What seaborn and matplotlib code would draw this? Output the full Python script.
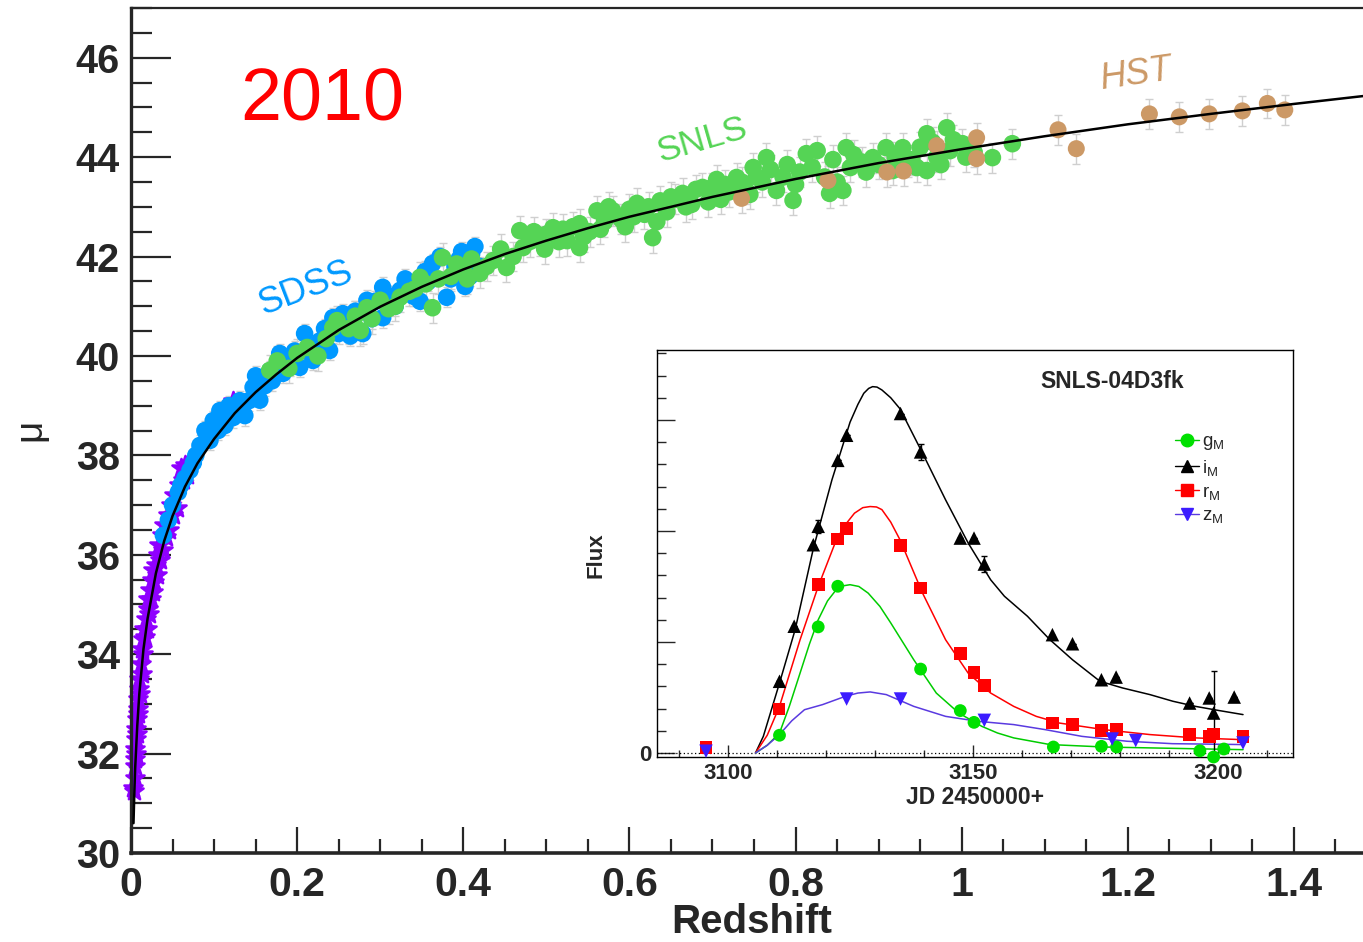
import numpy as np
import pandas as pd
import seaborn as sns
import matplotlib
matplotlib.use("Agg")
import matplotlib.pyplot as plt
from matplotlib.ticker import MultipleLocator, FuncFormatter
from matplotlib.lines import Line2D

# ---------------- data: Hubble diagram ----------------
lowz_z = [0.003, 0.004, 0.0045, 0.005, 0.0045, 0.005, 0.0055, 0.006, 0.0065, 0.007,
          0.0075, 0.008, 0.0085, 0.009, 0.0095, 0.010, 0.011, 0.012, 0.013, 0.0135,
          0.014, 0.015, 0.016, 0.017, 0.018, 0.019, 0.020, 0.021, 0.022, 0.023,
          0.024, 0.025, 0.026, 0.027, 0.028, 0.030, 0.031, 0.032, 0.034, 0.035,
          0.037, 0.039, 0.040, 0.042, 0.044, 0.046, 0.048, 0.050, 0.052, 0.055,
          0.058, 0.060, 0.062, 0.065, 0.068, 0.123]
lowz_mu = [31.3, 31.25, 31.5, 31.75, 31.9, 32.1, 32.3, 32.0, 32.5, 32.7,
           32.4, 32.9, 33.1, 32.8, 33.3, 33.5, 33.2, 33.8, 33.6, 34.1,
           34.3, 34.0, 34.5, 34.35, 34.7, 34.5, 34.9, 35.1, 34.8, 35.3,
           35.1, 35.5, 35.25, 35.7, 35.45, 35.8, 35.6, 36.0, 36.2, 35.9,
           36.4, 36.1, 36.6, 36.35, 36.8, 36.5, 37.0, 36.8, 37.2, 36.95,
           37.4, 37.75, 37.5, 37.8, 37.6, 39.1]

sdss_z = [0.039, 0.045, 0.057, 0.065, 0.071, 0.078, 0.083, 0.089, 0.091, 0.099,
          0.101, 0.107, 0.113, 0.123, 0.131, 0.137, 0.147, 0.155, 0.161, 0.167,
          0.179, 0.183, 0.191, 0.197, 0.203, 0.209, 0.219, 0.227, 0.239, 0.243,
          0.255, 0.264, 0.270, 0.279, 0.284, 0.294, 0.303, 0.303, 0.312, 0.324,
          0.336, 0.348, 0.354, 0.363, 0.372, 0.380, 0.390, 0.398, 0.408, 0.414,
          0.420, 0.05, 0.06, 0.075, 0.095, 0.105, 0.118, 0.127, 0.142, 0.15,
          0.17, 0.187, 0.21, 0.233, 0.25, 0.26, 0.29, 0.318, 0.33, 0.34,
          0.358, 0.385, 0.395, 0.402, 0.41]
sdss_mu = [36.39, 36.7, 37.26, 37.54, 37.7, 38.0, 38.2, 38.5, 38.44, 38.7,
           38.62, 38.9, 38.6, 38.76, 39.1, 38.8, 39.37, 39.11, 39.4, 39.7,
           40.05, 39.65, 39.8, 40.1, 39.77, 40.45, 39.91, 40.3, 40.11, 40.77,
           40.85, 40.4, 40.9, 40.45, 41.12, 41.1, 41.38, 40.77, 41.2, 41.32,
           41.4, 41.1, 41.7, 41.86, 42.0, 41.18, 41.8, 42.1, 41.6, 42.2,
           41.8, 37.0, 37.4, 37.85, 38.3, 38.5, 39.0, 38.9, 39.1, 39.6,
           39.5, 39.95, 40.1, 40.55, 40.45, 40.75, 40.75, 41.0, 41.55, 41.2,
           41.5, 41.55, 41.95, 41.4, 42.05]

snls_z = [0.167, 0.176, 0.19, 0.212, 0.225, 0.243, 0.248, 0.262, 0.276, 0.284,
          0.300, 0.31, 0.324, 0.335, 0.348, 0.363, 0.375, 0.385, 0.400, 0.41,
          0.420, 0.436, 0.445, 0.452, 0.468, 0.472, 0.48, 0.492, 0.50, 0.508,
          0.515, 0.525, 0.532, 0.540, 0.540, 0.552, 0.561, 0.57, 0.58, 0.59,
          0.600, 0.609, 0.618, 0.628, 0.637, 0.645, 0.655, 0.664, 0.675, 0.688,
          0.700, 0.71, 0.72, 0.729, 0.74, 0.749, 0.753, 0.765, 0.777, 0.785,
          0.797, 0.805, 0.813, 0.826, 0.841, 0.85, 0.857, 0.861, 0.866, 0.88,
          0.893, 0.909, 0.917, 0.929, 0.94, 0.946, 0.958, 0.958, 0.97, 0.982,
          0.986, 1.001, 1.015, 1.037, 1.061,
          0.2, 0.235, 0.27, 0.29, 0.318, 0.342, 0.355, 0.37, 0.392, 0.405,
          0.428, 0.46, 0.485, 0.498, 0.52, 0.545, 0.565, 0.575, 0.595, 0.605,
          0.623, 0.633, 0.65, 0.668, 0.68, 0.695, 0.705, 0.715, 0.735, 0.745,
          0.76, 0.77, 0.79, 0.80, 0.82, 0.835, 0.845, 0.87, 0.885, 0.9,
          0.92, 0.935, 0.95, 0.965, 0.975, 0.99, 1.005]
snls_mu = [39.71, 39.9, 39.75, 40.17, 40.0, 40.57, 40.71, 40.55, 40.51, 40.97,
           41.12, 40.95, 41.18, 41.3, 41.58, 40.97, 41.98, 41.6, 41.72, 41.95,
           41.66, 41.92, 42.15, 41.78, 42.52, 42.18, 42.3, 42.32, 42.45, 42.58,
           42.3, 42.32, 42.6, 42.66, 42.18, 42.5, 42.92, 42.7, 42.92, 42.75,
           42.95, 43.07, 42.85, 42.38, 43.12, 42.9, 43.15, 43.27, 43.05, 43.39,
           43.39, 43.15, 43.3, 43.59, 43.35, 43.79, 43.6, 43.99, 43.33, 43.6,
           43.13, 43.7, 44.07, 44.13, 43.27, 43.5, 43.33, 44.19, 43.79, 43.9,
           43.99, 44.19, 43.73, 44.19, 43.95, 43.79, 44.47, 43.73, 44.0, 44.59,
           44.13, 44.27, 44.1, 43.99, 44.27,
           40.05, 40.35, 40.8, 40.75, 41.0, 41.35, 41.45, 41.55, 41.85, 41.55,
           41.8, 42.0, 42.5, 42.15, 42.55, 42.4, 42.55, 43.0, 42.6, 42.8,
           43.0, 42.7, 43.2, 43.0, 43.35, 43.1, 43.55, 43.45, 43.5, 43.25,
           43.5, 43.75, 43.85, 43.45, 43.8, 43.6, 43.95, 44.05, 43.7, 43.85,
           44.0, 43.9, 44.2, 44.3, 43.85, 44.35, 44.0]

hst_z = [0.735, 0.839, 0.91, 0.93, 0.970, 1.018, 1.018, 1.116, 1.138, 1.226,
         1.262, 1.298, 1.338, 1.368, 1.389]
hst_mu = [43.17, 43.53, 43.7, 43.72, 44.23, 44.39, 43.97, 44.55, 44.17, 44.87,
          44.81, 44.87, 44.93, 45.08, 44.95]

fit_z = [0.003, 0.004, 0.005, 0.0075, 0.01, 0.015, 0.02, 0.03, 0.04, 0.05,
         0.065, 0.08, 0.1, 0.125, 0.15, 0.175, 0.2, 0.25, 0.3, 0.35,
         0.4, 0.45, 0.5, 0.55, 0.6, 0.7, 0.8, 0.9, 1.0, 1.1,
         1.2, 1.3, 1.4, 1.5]
fit_mu = [30.6, 31.2, 31.7, 32.55, 33.2, 34.1, 34.72, 35.63, 36.28, 36.78,
          37.37, 37.84, 38.33, 38.85, 39.27, 39.63, 39.96, 40.52, 40.99, 41.39,
          41.74, 42.05, 42.32, 42.57, 42.8, 43.2, 43.56, 43.88, 44.16, 44.42,
          44.66, 44.87, 45.07, 45.26]

err_sdss = 0.2
err_snls = 0.3
err_hst = 0.3

x_ticks = [0, 0.2, 0.4, 0.6, 0.8, 1.0, 1.2, 1.4]
y_ticks = [30, 32, 34, 36, 38, 40, 42, 44, 46]

# ---------------- data: light curve inset ----------------
g_jd = [3110.5, 3118.4, 3122.4, 3139.3, 3147.4, 3150.2, 3166.4, 3176.2, 3179.3, 3196.3, 3199.1, 3201.2]
g_flux = [0.8, 5.68, 7.51, 3.78, 1.91, 1.38, 0.27, 0.30, 0.27, 0.1, -0.18, 0.18]

i_jd = [3110.5, 3113.5, 3117.4, 3118.4, 3122.4, 3124.2, 3135.2, 3139.3, 3147.4, 3150.2,
        3152.3, 3166.2, 3170.3, 3176.2, 3179.2, 3194.2, 3198.2, 3199.1, 3203.3]
i_flux = [3.23, 5.71, 9.38, 10.21, 13.18, 14.31, 15.29, 13.56, 9.68, 9.68,
          8.51, 5.33, 4.92, 3.30, 3.42, 2.25, 2.48, 1.80, 2.52]
i_err = [0, 0, 0, 0.3, 0, 0, 0, 0.35, 0, 0,
         0.35, 0, 0, 0, 0, 0, 0, 1.9, 0]

r_jd = [3095.5, 3110.4, 3118.4, 3122.4, 3124.2, 3135.2, 3139.3, 3147.4, 3150.2, 3152.3,
        3166.2, 3170.3, 3176.2, 3179.2, 3194.2, 3198.2, 3199.1, 3205.1]
r_flux = [0.23, 1.98, 7.58, 9.64, 10.1, 9.35, 7.43, 4.47, 3.63, 3.05,
          1.35, 1.28, 1.02, 1.05, 0.83, 0.75, 0.86, 0.75]

z_jd = [3095.5, 3124.2, 3135.2, 3152.3, 3178.4, 3183.2, 3205.1]
z_flux = [0.08, 2.43, 2.43, 1.47, 0.63, 0.56, 0.45]

i_fit_jd = [3105.6, 3107.2, 3110.5, 3113.7, 3117.4, 3121.2, 3124.9, 3126.5, 3127.7, 3128.7,
            3129.5, 3130.4, 3131.4, 3133.2, 3135.1, 3139.7, 3144.4, 3149.0, 3153.6, 3156.4,
            3161.1, 3165.7, 3170.3, 3175.9, 3180.5, 3186.1, 3190.8, 3195.4, 3200.0, 3205.1]
i_fit_flux = [0, 0.75, 3.15, 5.56, 9.2, 12.3, 14.9, 15.7, 16.2, 16.42,
              16.5, 16.48, 16.35, 16.0, 15.5, 13.5, 11.4, 9.46, 7.8, 7.06,
              6.16, 5.1, 4.2, 3.23, 2.93, 2.63, 2.33, 2.1, 1.92, 1.73]
r_fit_jd = [3105.6, 3108.0, 3110.5, 3114.7, 3118.4, 3122.1, 3124.0, 3125.8, 3127.5, 3129.0,
            3130.3, 3131.4, 3133.2, 3135.1, 3139.7, 3144.4, 3149.0, 3153.6, 3158.3, 3162.9,
            3167.6, 3176.8, 3186.1, 3195.4, 3205.1]
r_fit_flux = [0, 0.8, 2.1, 5.1, 7.5, 9.6, 10.3, 10.8, 11.05, 11.1,
              11.08, 10.96, 10.4, 9.6, 7.2, 5.1, 3.6, 2.7, 2.1, 1.65,
              1.35, 1.05, 0.83, 0.68, 0.6]
g_fit_jd = [3105.6, 3108.0, 3110.5, 3112.5, 3114.7, 3116.6, 3118.4, 3120.3, 3122.1, 3123.5,
            3124.9, 3126.7, 3128.6, 3131.0, 3133.2, 3137.9, 3142.5, 3147.1, 3151.8, 3155.0,
            3158.3, 3165.7, 3176.8, 3186.1, 3205.1]
g_fit_flux = [0, 0.35, 0.9, 2.1, 3.6, 4.9, 6.0, 6.85, 7.36, 7.53,
              7.58, 7.5, 7.2, 6.6, 5.86, 4.2, 2.7, 1.8, 1.2, 0.9,
              0.68, 0.38, 0.27, 0.23, 0.15]
z_fit_jd = [3105.6, 3108.0, 3110.5, 3113.0, 3115.6, 3119.3, 3123.9, 3126.5, 3129.0, 3132.3,
            3137.9, 3144.4, 3150.9, 3158.3, 3164.8, 3172.2, 3181.4, 3190.7, 3205.1]
z_fit_flux = [0, 0.35, 0.83, 1.45, 1.95, 2.18, 2.55, 2.7, 2.75, 2.63,
              2.1, 1.65, 1.43, 1.28, 1.05, 0.75, 0.53, 0.42, 0.38]

band_labels = [r"g$_{\mathrm{M}}$", r"i$_{\mathrm{M}}$", r"r$_{\mathrm{M}}$", r"z$_{\mathrm{M}}$"]

# ---------------- style ----------------
sns.set_theme(style="ticks")
plt.rcParams["font.family"] = ["Liberation Sans", "DejaVu Sans"]
plt.rcParams["mathtext.fontset"] = "custom"
plt.rcParams["mathtext.rm"] = "Liberation Sans"
plt.rcParams["mathtext.it"] = "Liberation Sans:italic"

C_LOWZ = "#8f00ff"
C_SDSS = "#0099ff"
C_SNLS = "#55d455"
C_HST = "#cc9966"
C_ERR = "#cfcfcf"

W, H = 1363, 942
fig = plt.figure(figsize=(W / 100, H / 100), dpi=100)

def fx(px):
    return px / W

def fy(py):
    return 1 - py / H

# main axes: left 131, right 1377 (beyond image), top 8, bottom 853
ax = fig.add_axes([fx(131), fy(853), (1377 - 131) / W, (853 - 8) / H])
ax.set_xlim(0, 1.5)
ax.set_ylim(30, 47)

for zs, ms, e in [(sdss_z, sdss_mu, err_sdss), (snls_z, snls_mu, err_snls), (hst_z, hst_mu, err_hst)]:
    ax.errorbar(zs, ms, yerr=e, fmt="none", ecolor=C_ERR, elinewidth=1.0,
                capsize=3, capthick=1.0, zorder=1)

df_low = pd.DataFrame({"z": lowz_z, "mu": lowz_mu})
df_sdss = pd.DataFrame({"z": sdss_z, "mu": sdss_mu})
df_snls = pd.DataFrame({"z": snls_z, "mu": snls_mu})
df_hst = pd.DataFrame({"z": hst_z, "mu": hst_mu})
df_fit = pd.DataFrame({"z": fit_z, "mu": fit_mu})

sns.scatterplot(data=df_low, x="z", y="mu", ax=ax, color=C_LOWZ, marker="*", s=190,
                edgecolor=C_LOWZ, linewidth=1.8, zorder=2, clip_on=False, legend=False)
sns.scatterplot(data=df_sdss, x="z", y="mu", ax=ax, color=C_SDSS, marker="o", s=160,
                edgecolor="none", linewidth=0, zorder=3, clip_on=False, legend=False)
sns.scatterplot(data=df_snls, x="z", y="mu", ax=ax, color=C_SNLS, marker="o", s=160,
                edgecolor="none", linewidth=0, zorder=4, clip_on=False, legend=False)
sns.scatterplot(data=df_hst, x="z", y="mu", ax=ax, color=C_HST, marker="o", s=150,
                edgecolor="none", linewidth=0, zorder=5, clip_on=False, legend=False)
sns.lineplot(data=df_fit, x="z", y="mu", ax=ax, color="black", lw=1.8,
             estimator=None, sort=False, zorder=6)

ax.spines["right"].set_visible(False)
ax.spines["left"].set_linewidth(2.4)
ax.spines["bottom"].set_linewidth(2.6)
ax.spines["top"].set_linewidth(1.6)
ax.set_xticks(x_ticks)
ax.set_yticks(y_ticks)
ax.xaxis.set_minor_locator(MultipleLocator(0.05))
ax.yaxis.set_minor_locator(MultipleLocator(0.5))
ax.xaxis.set_major_formatter(FuncFormatter(lambda v, p: f"{v:g}"))
ax.tick_params(axis="y", which="major", direction="in", length=29, width=1.6,
               labelsize=28.5, pad=8, left=True, right=False)
ax.tick_params(axis="y", which="minor", direction="in", length=15, width=1.6, left=True, right=False)
ax.tick_params(axis="x", which="major", direction="in", length=19, width=1.6,
               labelsize=29.5, pad=9, bottom=True, top=False)
ax.tick_params(axis="x", which="minor", direction="in", length=10, width=1.6, bottom=True, top=False)
for lab in ax.get_xticklabels() + ax.get_yticklabels():
    lab.set_fontweight("bold")

ax.set_xlabel("Redshift", fontsize=29, fontweight="bold")
ax.set_ylabel("μ", fontsize=28)
ax.xaxis.set_label_coords((752 - 131) / 1246, -(922 - 853) / 845)
ax.xaxis.label.set_va("center")
ax.yaxis.set_label_coords((30 - 131) / 1246, (853 - 430) / 845)
ax.yaxis.label.set_va("center")

fig.text(fx(322), fy(101), "2010", color="#ff0000", fontsize=53, ha="center", va="center")
fig.text(fx(306), fy(289), "SDSS", color=C_SDSS, fontsize=26, ha="center", va="center", rotation=21)
fig.text(fx(702), fy(140), "SNLS", color=C_SNLS, fontsize=25.5, ha="center", va="center", rotation=16)
fig.text(fx(1136), fy(75), "HST", color=C_HST, fontsize=26, ha="center", va="center",
         rotation=8, style="italic")

# ---------------- inset ----------------
axi = fig.add_axes([fx(657), fy(757), (1293 - 657) / W, (757 - 350) / H])
axi.set_facecolor("white")
axi.set_zorder(10)
axi.set_xlim(3085.5, 3215.3)
axi.set_ylim(-0.18, 18.15)

axi.axhline(0, color="black", lw=0.9, ls=(0, (1, 2)), zorder=1)

C_G, C_GL = "#00e000", "#00cc00"
C_I, C_IL = "black", "black"
C_R, C_RL = "#ff0000", "#ff0000"
C_Z, C_ZL = "#3c1cff", "#5a3ae0"

sns.lineplot(x=i_fit_jd, y=i_fit_flux, ax=axi, color=C_IL, lw=1.1, estimator=None, sort=False)
sns.lineplot(x=r_fit_jd, y=r_fit_flux, ax=axi, color=C_RL, lw=1.1, estimator=None, sort=False)
sns.lineplot(x=g_fit_jd, y=g_fit_flux, ax=axi, color=C_GL, lw=1.1, estimator=None, sort=False)
sns.lineplot(x=z_fit_jd, y=z_fit_flux, ax=axi, color=C_ZL, lw=1.1, estimator=None, sort=False)

axi.errorbar(i_jd, i_flux, yerr=i_err, fmt="none", ecolor="black", elinewidth=1.0,
             capsize=2, capthick=1.0, zorder=3)

sns.scatterplot(x=g_jd, y=g_flux, ax=axi, color=C_G, marker="o", s=85, edgecolor="none",
                linewidth=0, zorder=4, clip_on=False, legend=False)
sns.scatterplot(x=i_jd, y=i_flux, ax=axi, color=C_I, marker="^", s=95, edgecolor="none",
                linewidth=0, zorder=4, clip_on=False, legend=False)
sns.scatterplot(x=r_jd, y=r_flux, ax=axi, color=C_R, marker="s", s=85, edgecolor="none",
                linewidth=0, zorder=4, clip_on=False, legend=False)
sns.scatterplot(x=z_jd, y=z_flux, ax=axi, color=C_Z, marker="v", s=95, edgecolor="none",
                linewidth=0, zorder=4, clip_on=False, legend=False)

for s in ["left", "right", "top", "bottom"]:
    axi.spines[s].set_visible(True)
    axi.spines[s].set_linewidth(1.0)
    axi.spines[s].set_color("black")
axi.set_xticks([3100, 3150, 3200])
axi.xaxis.set_minor_locator(MultipleLocator(10))
axi.set_yticks([0, 5, 10, 15])
axi.set_yticklabels(["0", "", "", ""])
axi.yaxis.set_minor_locator(MultipleLocator(1))
axi.tick_params(axis="x", which="major", direction="in", length=9, width=1.0, labelsize=16,
                pad=4, bottom=True, top=False)
axi.tick_params(axis="x", which="minor", direction="in", length=5, width=1.0, bottom=True, top=False)
axi.tick_params(axis="y", which="major", direction="in", length=13, width=1.0, labelsize=16,
                pad=4, left=True, right=False)
axi.tick_params(axis="y", which="minor", direction="in", length=6.5, width=1.0, left=True, right=False)
for lab in axi.get_xticklabels() + axi.get_yticklabels():
    lab.set_fontweight("bold")

axi.set_xlabel("JD 2450000+", fontsize=16.5, fontweight="bold")
axi.set_ylabel("Flux", fontsize=16, fontweight="bold")
axi.xaxis.set_label_coords(0.5, (757 - 797) / 407)
axi.xaxis.label.set_va("center")
axi.yaxis.set_label_coords((596 - 657) / 636, (757 - 555) / 407)
axi.yaxis.label.set_va("center")

axi.text((1112 - 657) / 636, (757 - 382) / 407, "SNLS-04D3fk", transform=axi.transAxes,
         fontsize=16.5, fontweight="bold", ha="center", va="center")

handles = [
    Line2D([], [], color=C_GL, lw=1.0, marker="o", markersize=9, markerfacecolor=C_G, markeredgecolor=C_G),
    Line2D([], [], color=C_IL, lw=1.0, marker="^", markersize=9, markerfacecolor=C_I, markeredgecolor=C_I),
    Line2D([], [], color=C_RL, lw=1.0, marker="s", markersize=8.5, markerfacecolor=C_R, markeredgecolor=C_R),
    Line2D([], [], color=C_ZL, lw=1.0, marker="v", markersize=9, markerfacecolor=C_Z, markeredgecolor=C_Z),
]
axi.legend(handles, band_labels, loc="upper left", bbox_to_anchor=(fx(1175), fy(433)),
           bbox_transform=fig.transFigure, frameon=False, fontsize=13.5, handlelength=1.3,
           handletextpad=0.15, labelspacing=0.3, borderpad=0, borderaxespad=0)

fig.savefig("out.png", dpi=100)
